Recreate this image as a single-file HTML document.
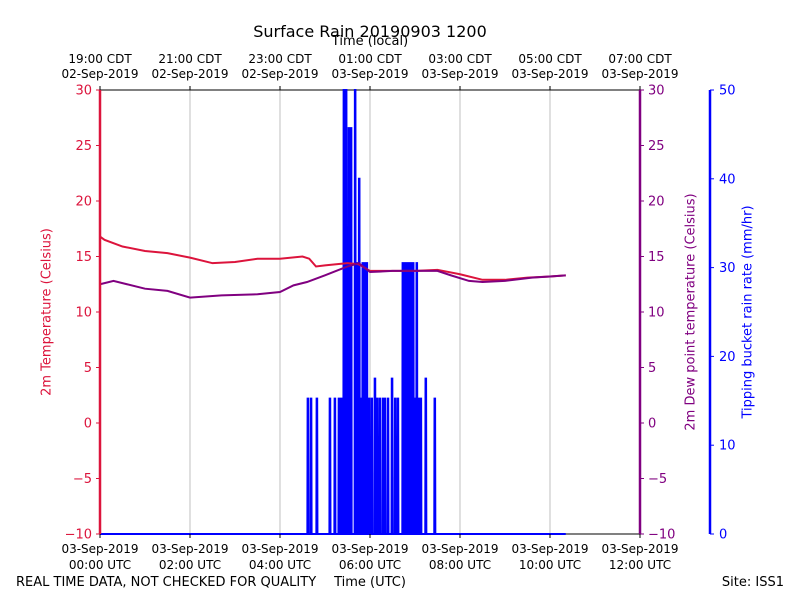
<!DOCTYPE html>
<html><head><meta charset="utf-8"><style>
body{margin:0;background:#fff}
svg{display:block;font-family:"DejaVu Sans","Liberation Sans",sans-serif}
</style></head><body>
<svg id="c" width="800" height="600"></svg>
<script>
const tempT=[0,0.1,0.5,1,1.5,2,2.5,3,3.5,4,4.5,4.65,4.8,5,5.5,5.75,6,6.5,7,7.5,8,8.5,9,9.5,10,10.35];
const tempV=[16.8,16.5,15.9,15.5,15.3,14.9,14.4,14.5,14.8,14.8,15.0,14.8,14.1,14.2,14.4,14.3,13.7,13.7,13.7,13.8,13.4,12.9,12.9,13.1,13.2,13.3];
const dewT=[0,0.3,0.6,1,1.5,2,2.7,3.5,4,4.3,4.6,5,5.5,5.75,6,6.5,7,7.5,7.8,8.2,8.5,9,9.6,10,10.35];
const dewV=[12.5,12.8,12.5,12.1,11.9,11.3,11.5,11.6,11.8,12.4,12.7,13.3,14.1,14.4,13.6,13.7,13.7,13.7,13.3,12.8,12.7,12.8,13.1,13.2,13.3];
// rain spikes: time in hours (UTC), rate mm/hr
const rainT=[4.62,4.69,4.82,5.11,5.22,5.31,5.36,5.42,5.47,5.53,5.58,5.67,5.71,5.76,5.8,5.84,5.89,5.93,5.98,6.04,6.11,6.16,6.22,6.29,6.33,6.4,6.49,6.56,6.62,6.73,6.78,6.82,6.87,6.91,6.96,7.0,7.04,7.09,7.13,7.24,7.44];
const rainV=[15.24,15.24,15.24,15.24,15.24,15.24,15.24,61,61,45.7,45.7,61,30.5,40,15.24,30.5,30.5,30.5,15.24,15.24,17.5,15.24,15.24,15.24,15.24,15.24,17.5,15.24,15.24,30.5,30.5,30.5,30.5,30.5,30.5,15.24,30.5,15.24,15.24,17.5,15.24];
const leftTicks=[-10,-5,0,5,10,15,20,25,30];
const rainTicks=[0,10,20,30,40,50];
const botLabels=["00:00 UTC","02:00 UTC","04:00 UTC","06:00 UTC","08:00 UTC","10:00 UTC","12:00 UTC"];
const topLabels=["19:00 CDT|02-Sep-2019","21:00 CDT|02-Sep-2019","23:00 CDT|02-Sep-2019","01:00 CDT|03-Sep-2019","03:00 CDT|03-Sep-2019","05:00 CDT|03-Sep-2019","07:00 CDT|03-Sep-2019"];

const X0=100,X1=640,Y0=90,Y1=534;
const x=h=>X0+h/12*(X1-X0);
const yT=v=>Y1-(v+10)/40*(Y1-Y0);
const yR=v=>Math.max(Y0,Y1-v/50*(Y1-Y0));
const svg=document.getElementById('c');
const NS='http://www.w3.org/2000/svg';
function el(tag,attrs,txt){const e=document.createElementNS(NS,tag);for(const k in attrs)e.setAttribute(k,attrs[k]);if(txt!=null)e.textContent=txt;svg.appendChild(e);return e;}
for(let i=0;i<7;i++){const g=el('line',{x1:x(i*2),x2:x(i*2),y1:Y0,y2:Y1,stroke:'#b0b0b0','stroke-width':0.8});

}
let f=el('line',{x1:X0,x2:X1,y1:Y0,y2:Y0,stroke:'#000','stroke-width':1});

f=el('line',{x1:X0,x2:X1,y1:Y1,y2:Y1,stroke:'#000','stroke-width':1});

let pts=[[0,0]];
rainT.forEach((t,i)=>{pts.push([t-0.012,0],[t-0.006,rainV[i]],[t+0.006,rainV[i]],[t+0.012,0]);});
pts.push([10.35,0]);
const rp=el('polyline',{points:pts.map(p=>x(p[0])+','+yR(p[1])).join(' '),fill:'none',stroke:'#0000ff','stroke-width':2});

const tp=el('polyline',{points:tempT.map((t,i)=>x(t)+','+yT(tempV[i])).join(' '),fill:'none',stroke:'#dc143c','stroke-width':2});

const dp=el('polyline',{points:dewT.map((t,i)=>x(t)+','+yT(dewV[i])).join(' '),fill:'none',stroke:'#800080','stroke-width':2});

f=el('line',{x1:X0,x2:X0,y1:Y0,y2:Y1,stroke:'#dc143c','stroke-width':2.5});

f=el('line',{x1:X1,x2:X1,y1:Y0,y2:Y1,stroke:'#800080','stroke-width':2.5});

f=el('line',{x1:710,x2:710,y1:Y0,y2:Y1,stroke:'#0000ff','stroke-width':2.5});

leftTicks.forEach(v=>{const y=yT(v);const lab=v<0?'\u2212'+(-v):''+v;
el('line',{x1:X0-4,x2:X0,y1:y,y2:y,stroke:'#dc143c','stroke-width':1});
let t=el('text',{x:X0-8,y:y+4.5,'text-anchor':'end','font-size':13,fill:'#dc143c'},lab);

el('line',{x1:X1,x2:X1+4,y1:y,y2:y,stroke:'#800080','stroke-width':1});
t=el('text',{x:X1+8,y:y+4.5,'font-size':13,fill:'#800080'},lab);
});
rainTicks.forEach(v=>{const y=yR(v);
el('line',{x1:710,x2:714,y1:y,y2:y,stroke:'#0000ff','stroke-width':1});
const t=el('text',{x:719,y:y+4.5,'font-size':13,fill:'#0000ff'},''+v);
});
botLabels.forEach((l,i)=>{const xx=x(i*2);
el('line',{x1:xx,x2:xx,y1:Y1,y2:Y1+4,stroke:'#000'});
let t=el('text',{x:xx,y:553,'text-anchor':'middle','font-size':12},'03-Sep-2019');

t=el('text',{x:xx,y:569,'text-anchor':'middle','font-size':12},l);
});
topLabels.forEach((l,i)=>{const xx=x(i*2);const p=l.split('|');
el('line',{x1:xx,x2:xx,y1:Y0-4,y2:Y0,stroke:'#000'});
let t=el('text',{x:xx,y:63,'text-anchor':'middle','font-size':12},p[0]);

t=el('text',{x:xx,y:78,'text-anchor':'middle','font-size':12},p[1]);
});
</script>
<div style="position:absolute;left:0;top:0;width:800px;height:600px;pointer-events:none;font-family:'DejaVu Sans','Liberation Sans',sans-serif">
<div style="position:absolute;left:0;width:740px;top:22px;text-align:center;font-size:16px">Surface Rain 20190903 1200</div>
<div style="position:absolute;left:0;width:740px;top:34px;text-align:center;font-size:13px">Time (local)</div>
<div style="position:absolute;left:0;width:740px;top:575px;text-align:center;font-size:13px">Time (UTC)</div>
<div style="position:absolute;left:16px;top:575px;font-size:13px">REAL TIME DATA, NOT CHECKED FOR QUALITY</div>
<div style="position:absolute;right:16px;top:575px;font-size:13px">Site: ISS1</div>
<div style="position:absolute;left:47px;top:312px;transform:translate(-50%,-50%) rotate(-90deg);white-space:nowrap;font-size:13px;color:#dc143c">2m Temperature (Celsius)</div>
<div style="position:absolute;left:691px;top:312px;transform:translate(-50%,-50%) rotate(-90deg);white-space:nowrap;font-size:13px;color:#800080">2m Dew point temperature (Celsius)</div>
<div style="position:absolute;left:748px;top:312px;transform:translate(-50%,-50%) rotate(-90deg);white-space:nowrap;font-size:13px;color:#0000ff">Tipping bucket rain rate (mm/hr)</div>
</div>
</body></html>
